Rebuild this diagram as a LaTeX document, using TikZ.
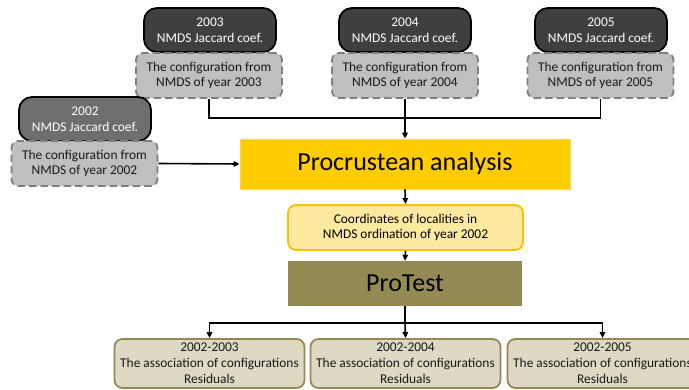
\documentclass[tikz,border=0pt]{standalone}
\usepackage{fontspec}
\setmainfont{Carlito}
\usetikzlibrary{arrows.meta}
\definecolor{darkfill}{HTML}{3F3F3F}
\definecolor{midfill}{HTML}{6E6E6E}
\definecolor{cfgfill}{HTML}{BFBFBF}
\definecolor{cfgline}{HTML}{7F7F7F}
\definecolor{gold}{HTML}{FFCC00}
\definecolor{goldline}{HTML}{FFD54F}
\definecolor{paleyellow}{HTML}{FDE9A0}
\definecolor{yellowline}{HTML}{FFC000}
\definecolor{olive}{HTML}{948A54}
\definecolor{paleolive}{HTML}{DDD9C3}
\begin{document}
\begin{tikzpicture}[x=1pt,y=-1pt,
  smalltext/.style={font=\fontsize{13.4}{15.8}\selectfont},
  yearbox/.style={rectangle, rounded corners=13pt, draw=black, line width=1.8pt,
    fill=darkfill, text=white, minimum width=132pt, minimum height=44pt,
    inner sep=0pt, align=center, smalltext},
  cfgbox/.style={rectangle, rounded corners=7pt, draw=cfgline, line width=1.8pt,
    dash pattern=on 7.5pt off 4pt, fill=cfgfill, text=black!90,
    minimum width=146pt, minimum height=45pt, inner sep=0pt, align=center, smalltext},
  resbox/.style={rectangle, rounded corners=8pt, draw=olive, line width=1.8pt,
    fill=paleolive, text=black!90, minimum width=190pt, minimum height=49pt,
    inner sep=0pt, align=center, smalltext},
  link/.style={draw=black, line width=1.6pt},
  arrowlink/.style={link, -{Triangle[length=6pt,width=5.5pt]}}
]
\useasboundingbox (0,0) rectangle (689,390);
\clip (0,0) rectangle (689,390);

% top year boxes
\node[yearbox] (d2003) at (210,30) {2003\\NMDS Jaccard coef.};
\node[cfgbox] (g2003) at (209,75.5) {The configuration from\\NMDS of year 2003};
\node[yearbox] (d2004) at (405,30) {2004\\NMDS Jaccard coef.};
\node[cfgbox] (g2004) at (405,75.5) {The configuration from\\NMDS of year 2004};
\node[yearbox] (d2005) at (601,30) {2005\\NMDS Jaccard coef.};
\node[cfgbox] (g2005) at (600.5,75.5) {The configuration from\\NMDS of year 2005};
\node[yearbox, fill=midfill] (d2002) at (85,119) {2002\\NMDS Jaccard coef.};
\node[cfgbox] (g2002) at (84.5,163.5) {The configuration from\\NMDS of year 2002};

% central column
\node[rectangle, fill=gold, draw=goldline, line width=0.8pt, minimum width=330pt,
  minimum height=50pt, inner sep=0pt, font=\fontsize{26}{30}\selectfont] (proc) at (405,164) {Procrustean analysis};
\node[rectangle, rounded corners=8pt, fill=paleyellow, draw=yellowline, line width=1.8pt,
  minimum width=235pt, minimum height=45pt, inner sep=0pt, align=center, smalltext] (coord) at (405.5,227.5)
  {Coordinates of localities in\\NMDS ordination of year 2002};
\node[rectangle, fill=olive, minimum width=234pt, minimum height=45pt, inner sep=0pt,
  font=\fontsize{26}{30}\selectfont] (protest) at (405,283.5) {ProTest};

% bottom result boxes
\node[resbox] (r2003) at (209.5,363.5) {2002-2003\\The association of configurations\\Residuals};
\node[resbox] (r2004) at (405.5,363.5) {2002-2004\\The association of configurations\\Residuals};
\node[resbox] (r2005) at (602.5,363.5) {2002-2005\\The association of configurations\\Residuals};

% connectors
\coordinate (jtop) at (405,118);
\draw[link] (g2003.south) |- (jtop) -| (g2005.south);
\draw[arrowlink] (g2004.south) -- (proc.north);
\draw[arrowlink] (g2002.east) -- (proc.west);
\draw[arrowlink] (proc.south) -- (coord.north);
\draw[arrowlink] (coord.south) -- (protest.north);
\coordinate (jbot) at (405,323);
\draw[link] (protest.south) -- (jbot);
\draw[arrowlink] (jbot) -| (r2003.north);
\draw[arrowlink] (jbot) -- (r2004.north);
\draw[arrowlink] (jbot) -| (r2005.north);
\end{tikzpicture}
\end{document}
